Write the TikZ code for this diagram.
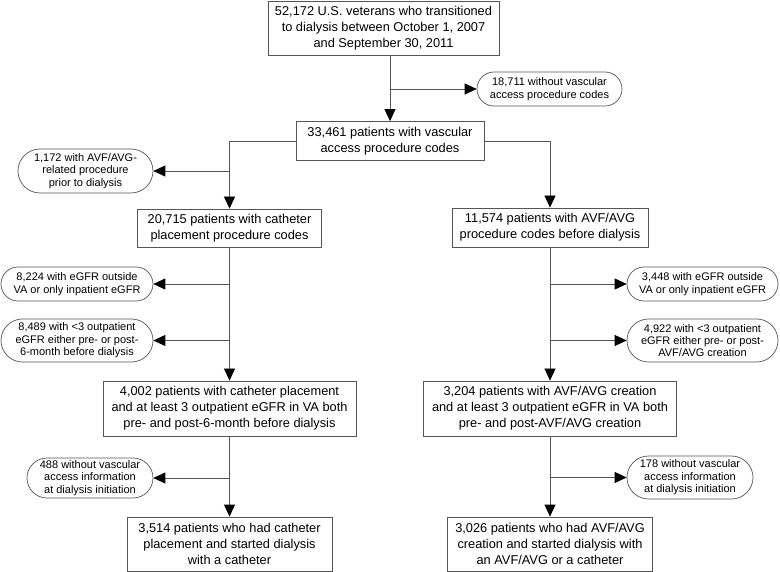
\documentclass[tikz,border=0pt]{standalone}
\usepackage{fontspec}
\setmainfont{Liberation Sans}
\usetikzlibrary{arrows.meta,shapes.misc}
\definecolor{linecol}{RGB}{85,85,85}
\tikzset{
  box/.style={draw=linecol, line width=0.8pt, fill=white, inner sep=0pt, align=center,
    font=\fontsize{12.8}{16}\selectfont},
  oval/.style={rounded rectangle, draw=linecol, line width=0.7pt, fill=white, inner sep=0pt, align=center,
    font=\fontsize{11}{12.4}\selectfont},
  conn/.style={draw=linecol, line width=0.8pt},
  arr/.style={conn, -{Triangle[length=12pt,width=11pt,fill=black,color=black]}},
}
\begin{document}
\begin{tikzpicture}[x=1pt,y=-1pt]
\useasboundingbox (0,0) rectangle (780,572);
% main boxes
\node[box, minimum width=231pt, minimum height=54pt] (top) at (383.5,28) {52,172 U.S. veterans who transitioned\\to dialysis between October 1, 2007\\and September 30, 2011};
\node[box, minimum width=188pt, minimum height=39pt] (b2) at (390,141) {33,461 patients with vascular\\access procedure codes};
\node[box, minimum width=184pt, minimum height=38pt] (b3) at (229.5,228) {20,715 patients with catheter\\placement procedure codes};
\node[box, minimum width=196pt, minimum height=39pt] (b3r) at (550,227.5) {11,574 patients with AVF/AVG\\procedure codes before dialysis};
\node[box, minimum width=253pt, minimum height=55pt] (b4) at (229.5,408.5) {4,002 patients with catheter placement\\and at least 3 outpatient eGFR in VA both\\pre- and post-6-month before dialysis};
\node[box, minimum width=253pt, minimum height=55pt] (b4r) at (550,408.5) {3,204 patients with AVF/AVG creation\\and at least 3 outpatient eGFR in VA both\\pre- and post-AVF/AVG creation};
\node[box, minimum width=205pt, minimum height=54pt] (b5) at (229.5,544) {3,514 patients who had catheter\\placement and started dialysis\\with a catheter};
\node[box, minimum width=205pt, minimum height=54pt] (b5r) at (550,544) {3,026 patients who had AVF/AVG\\creation and started dialysis with\\an AVF/AVG or a catheter};
% exclusion ovals
\node[oval, minimum width=145pt, minimum height=34pt] (o1) at (549.5,89) {18,711 without vascular\\access procedure codes};
\node[oval, minimum width=135pt, minimum height=44pt] (o2) at (85.5,171) {1,172 with AVF/AVG-\\related procedure\\prior to dialysis};
\node[oval, minimum width=152pt, minimum height=34pt] (o3) at (77,284) {8,224 with eGFR outside\\VA or only inpatient eGFR};
\node[oval, minimum width=152pt, minimum height=43pt] (o4) at (77,340.5) {8,489 with <3 outpatient\\eGFR either pre- or post-\\6-month before dialysis};
\node[oval, minimum width=126pt, minimum height=40pt] (o5) at (90,478) {488 without vascular\\access information\\at dialysis initiation};
\node[oval, minimum width=151pt, minimum height=34pt] (o3r) at (702.5,284) {3,448 with eGFR outside\\VA or only inpatient eGFR};
\node[oval, minimum width=151pt, minimum height=43pt] (o4r) at (702.5,340.5) {4,922 with <3 outpatient\\eGFR either pre- or post-\\AVF/AVG creation};
\node[oval, minimum width=126pt, minimum height=43pt] (o5r) at (690,477.5) {178 without vascular\\access information\\at dialysis initiation};
% connectors
\draw[arr] (top.south -| b2.north) -- (b2.north);
\draw[arr] (b2.north |- o1.west) -- (o1.west);
\draw[arr] (b2.west) -- (b2.west -| b3.north) -- (b3.north);
\draw[arr] (b2.east) -- (b2.east -| b3r.north) -- (b3r.north);
\draw[arr] (b3.north |- o2.east) -- (o2.east);
\draw[arr] (b3.south) -- (b4.north);
\draw[arr] (b3.south |- o3.east) -- (o3.east);
\draw[arr] (b3.south |- o4.east) -- (o4.east);
\draw[arr] (b4.south) -- (b5.north);
\draw[arr] (b4.south |- o5.east) -- (o5.east);
\draw[arr] (b3r.south) -- (b4r.north);
\draw[arr] (b3r.south |- o3r.west) -- (o3r.west);
\draw[arr] (b3r.south |- o4r.west) -- (o4r.west);
\draw[arr] (b4r.south) -- (b5r.north);
\draw[arr] (b4r.south |- o5r.west) -- (o5r.west);
\end{tikzpicture}
\end{document}
